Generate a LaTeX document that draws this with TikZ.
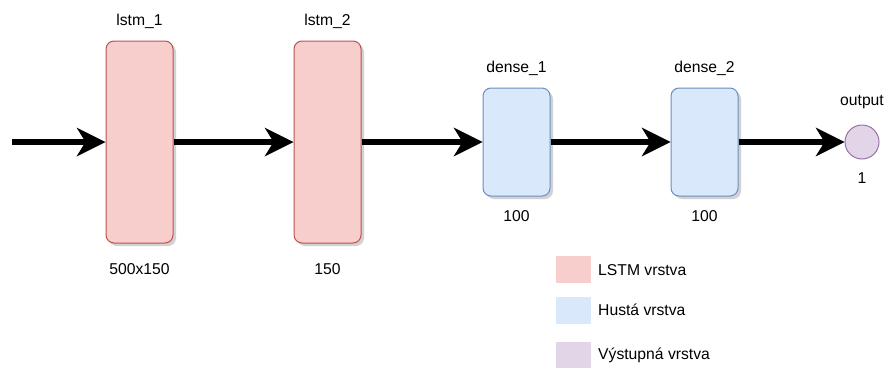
\documentclass[tikz,border=0pt]{standalone}
\usepackage{fontspec}
\setmainfont{Liberation Sans}
\usetikzlibrary{arrows.meta,shadows}
\definecolor{lstmfill}{HTML}{F8CECC}
\definecolor{lstmline}{HTML}{B85450}
\definecolor{densefill}{HTML}{DAE8FC}
\definecolor{denseline}{HTML}{6C8EBF}
\definecolor{outfill}{HTML}{E1D5E7}
\definecolor{outline}{HTML}{9673A6}
\tikzset{
  layer/.style={rectangle, rounded corners=8pt, minimum width=67pt, inner sep=0pt, line width=1pt,
    drop shadow={shadow xshift=3pt, shadow yshift=-3pt, fill=black!35, opacity=0.5}},
  lstm/.style={layer, fill=lstmfill, draw=lstmline, minimum height=202pt},
  dense/.style={layer, fill=densefill, draw=denseline, minimum height=108pt},
  outnode/.style={circle, fill=outfill, draw=outline, line width=1pt, minimum size=34pt, inner sep=0pt},
  lbl/.style={font=\fontsize{15.7pt}{18pt}\selectfont, inner sep=0pt},
  flow/.style={line width=6.5pt, -{Stealth[length=29pt, width=29pt, inset=9pt, line width=0pt]}},
  legbox/.style={rectangle, minimum width=35pt, minimum height=27pt, inner sep=0pt},
}
\begin{document}
\begin{tikzpicture}[x=1pt, y=-1pt]
\useasboundingbox (0,0) rectangle (885,367);
\node[lstm] (l1) at (139.5,142) {};
\node[lstm] (l2) at (327.5,142) {};
\node[dense] (d1) at (516.5,142) {};
\node[dense] (d2) at (704.5,142) {};
\node[outnode] (o) at (862,142) {};
\coordinate (in) at (12,142);

\node[lbl] (t1) at (139.5,21) {lstm\_1};
\node[lbl] (t2) at (327.5,21) {lstm\_2};
\node[lbl] (t3) at (516.5,68) {dense\_1};
\node[lbl] (t4) at (704.5,68) {dense\_2};
\node[lbl] (t5) at (862,102) {output};
\node[lbl] (b1) at (139.5,269) {500x150};
\node[lbl] (b2) at (327.5,269) {150};
\node[lbl] (b3) at (516.5,216) {100};
\node[lbl] (b4) at (704.5,216) {100};
\node[lbl] (b5) at (862,178) {1};

\draw[flow] (in) -- (l1.west);
\draw[flow] (l1.east) -- (l2.west);
\draw[flow] (l2.east) -- (d1.west);
\draw[flow] (d1.east) -- (d2.west);
\draw[flow] (d2.east) -- (o.west);

\node[legbox, fill=lstmfill] (g1) at (573.5,269.5) {};
\node[legbox, fill=densefill] (g2) at (573.5,310) {};
\node[legbox, fill=outfill] (g3) at (573.5,355) {};
\node[lbl, anchor=west] (k1) at (598,270) {LSTM vrstva};
\node[lbl, anchor=west] (k2) at (598,310) {Hustá vrstva};
\node[lbl, anchor=west] (k3) at (598,355) {Výstupná vrstva};
\end{tikzpicture}
\end{document}
